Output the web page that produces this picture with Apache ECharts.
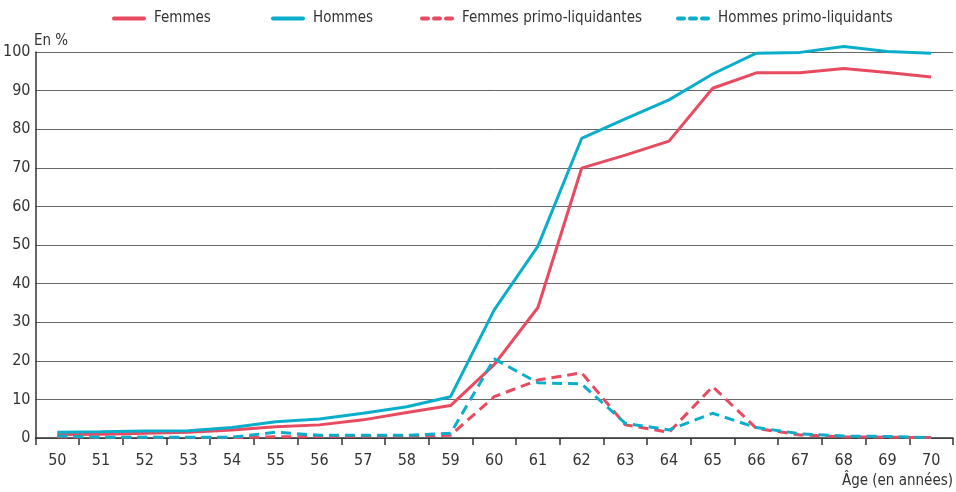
<!DOCTYPE html>
<html><head><meta charset="utf-8">
<script src="https://cdn.jsdelivr.net/npm/echarts@6/dist/echarts.min.js"></script>
<style>html,body{margin:0;padding:0;background:#fff}#c{width:956px;height:492px}</style>
</head><body><div id="c"></div>
<script>
var ages = ['50','51','52','53','54','55','56','57','58','59','60','61','62','63','64','65','66','67','68','69','70'];
var femmes = [0.9,1.0,1.2,1.5,2.1,2.9,3.4,4.7,6.6,8.4,19.0,33.8,69.9,73.3,76.9,90.6,94.6,94.6,95.7,94.7,93.5];
var hommes = [1.5,1.6,1.8,1.9,2.7,4.2,4.9,6.4,8.1,10.7,33.2,49.7,77.6,82.7,87.6,94.3,99.7,99.9,101.4,100.1,99.7];
var femmesPrimo = [0.3,0.2,0.2,0.1,0.1,0.3,0.4,0.5,0.6,0.7,10.7,15.0,16.9,3.4,1.5,13.3,2.5,0.8,0.3,0.2,0.1];
var hommesPrimo = [0.5,0.2,0.2,0.2,0.2,1.5,0.7,0.7,0.7,1.2,20.5,14.3,14.0,3.8,2.1,6.4,2.7,1.1,0.5,0.4,0.1];
var names = ['Femmes','Hommes','Femmes primo-liquidantes','Hommes primo-liquidants'];
var yUnit = 'En %';
var RED = '#e84a5f', BLUE = '#0aaecb';
var FONT = '"Liberation Sans Narrow","DejaVu Sans Condensed",sans-serif';
var legendLeft = [107, 266, 415, 671];
var SOLID_ICON = 'path://M2,0H32A2,2 0 0 1 32,4H2A2,2 0 0 1 2,0Z';
var DASH_ICON = 'path://M2,0H8A2,2 0 0 1 8,4H2A2,2 0 0 1 2,0Z M14,0H20A2,2 0 0 1 20,4H14A2,2 0 0 1 14,0Z M26,0H32A2,2 0 0 1 32,4H26A2,2 0 0 1 26,0Z';
function mkLegend(i, dashed){
  return {data:[{name:names[i], icon: dashed ? DASH_ICON : SOLID_ICON}], left:legendLeft[i], top:6,
    itemWidth:34, itemHeight:4, itemGap:0,
    textStyle:{fontFamily:FONT, fontSize:15, color:'#333', padding:[0,0,0,3]}};
}
function mkSeries(i, data, color, dashed){
  return {name:names[i], type:'line', data:data, symbol:'none', smooth:false, clip:false,
    lineStyle:{color:color, width:3, type: dashed ? [10,6] : 'solid'},
    itemStyle:{color:color}, z: dashed ? 3 : 2};
}
var chart = echarts.init(document.getElementById('c'));
chart.setOption({
  animation:false,
  legend:[mkLegend(0,false),mkLegend(1,false),mkLegend(2,true),mkLegend(3,true)],
  graphic:[{type:'text', left:34, top:34, style:{text:yUnit, font:'15px ' + FONT, fill:'#333'}}],
  grid:{left:35, right:3, top:52, bottom:54, containLabel:false},
  xAxis:{type:'category', data:ages, boundaryGap:true,
    name:'Âge (en années)', nameLocation:'end', nameGap:0,
    nameTextStyle:{fontFamily:FONT, fontSize:15, color:'#333', align:'right', verticalAlign:'top', padding:[36,0,0,0]},
    axisLine:{lineStyle:{color:'#333', width:1.5}},
    axisTick:{show:true, alignWithLabel:false, length:7, lineStyle:{color:'#333', width:1.5}},
    axisLabel:{fontFamily:FONT, fontSize:16, color:'#333', margin:15},
    splitLine:{show:false}},
  yAxis:{type:'value', min:0, max:100, interval:10,
    axisLine:{show:true, lineStyle:{color:'#333', width:1.5}},
    axisTick:{show:false},
    axisLabel:{fontFamily:FONT, fontSize:16, color:'#333', margin:5},
    splitLine:{lineStyle:{color:'#666', width:1}}},
  series:[
    mkSeries(0, femmes, RED, false),
    mkSeries(1, hommes, BLUE, false),
    mkSeries(2, femmesPrimo, RED, true),
    mkSeries(3, hommesPrimo, BLUE, true)
  ]
});
</script></body></html>
